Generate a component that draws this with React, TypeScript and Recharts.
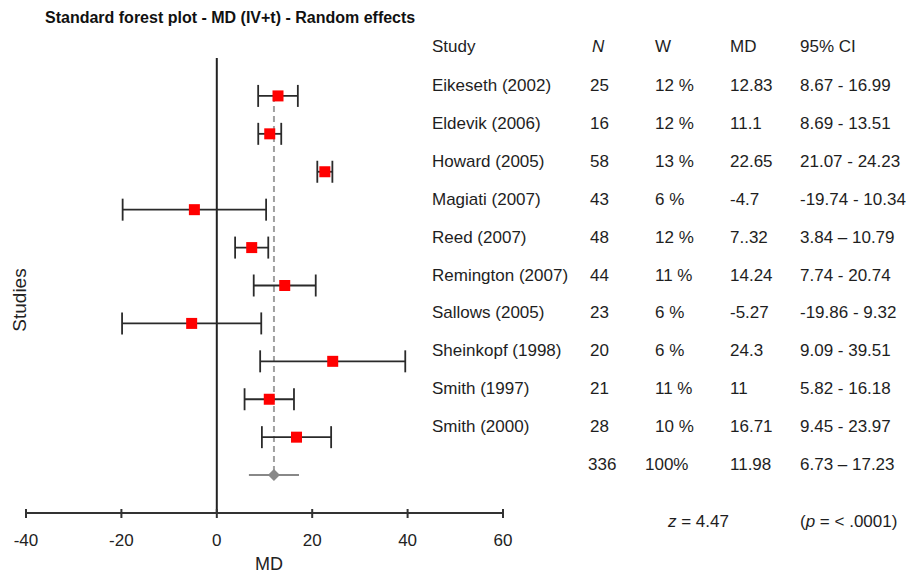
import React from "react";
import { ScatterChart, Scatter, XAxis, YAxis, ErrorBar, ReferenceLine } from "recharts";

const studies = [
  "Eikeseth (2002)",
  "Eldevik (2006)",
  "Howard (2005)",
  "Magiati (2007)",
  "Reed (2007)",
  "Remington (2007)",
  "Sallows (2005)",
  "Sheinkopf (1998)",
  "Smith (1997)",
  "Smith (2000)",
];
const nValues = ["25", "16", "58", "43", "48", "44", "23", "20", "21", "28"];
const weights = ["12 %", "12 %", "13 %", "6 %", "12 %", "11 %", "6 %", "6 %", "11 %", "10 %"];
const mdLabels = ["12.83", "11.1", "22.65", "-4.7", "7..32", "14.24", "-5.27", "24.3", "11", "16.71"];
const ciLabels = [
  "8.67 - 16.99",
  "8.69 - 13.51",
  "21.07 - 24.23",
  "-19.74 - 10.34",
  "3.84 \u2013 10.79",
  "7.74 - 20.74",
  "-19.86 - 9.32",
  "9.09 - 39.51",
  "5.82 - 16.18",
  "9.45 - 23.97",
];
const mdValues = [12.83, 11.1, 22.65, -4.7, 7.32, 14.24, -5.27, 24.3, 11, 16.71];
const ciLow = [8.67, 8.69, 21.07, -19.74, 3.84, 7.74, -19.86, 9.09, 5.82, 9.45];
const ciHigh = [16.99, 13.51, 24.23, 10.34, 10.79, 20.74, 9.32, 39.51, 16.18, 23.97];

const pooledMd = 11.98;
const pooledLow = 6.73;
const pooledHigh = 17.23;
const pooledRow = ["336", "100%", "11.98", "6.73 \u2013 17.23"];
const xTicks = [-40, -20, 0, 20, 40, 60];

const studyData = mdValues.map((md, i) => ({
  row: i + 1,
  md,
  err: [md - ciLow[i], ciHigh[i] - md],
}));
const pooledData = [{ row: 11, md: pooledMd, err: [pooledMd - pooledLow, pooledHigh - pooledMd] }];

const W = 911;
const H = 574;
const PLOT_TOP = 58;
const PLOT_BOTTOM = 513;
const ROW_H = (PLOT_BOTTOM - PLOT_TOP) / 12;
const FONT = "Arial, 'Liberation Sans', sans-serif";

const Square = (props: any) => {
  const { cx, cy } = props;
  return <rect x={cx - 5.5} y={cy - 5.5} width={11} height={11} fill="#ff0000" />;
};

const Diamond = (props: any) => {
  const { cx, cy } = props;
  return <polygon points={`${cx},${cy - 6} ${cx + 6},${cy} ${cx},${cy + 6} ${cx - 6},${cy}`} fill="#888888" />;
};

const AxisTick = (props: any) => {
  const { x, y, payload } = props;
  return (
    <g>
      <line x1={x} x2={x} y1={y - 4} y2={y + 5} stroke="#333" strokeWidth={2} />
      <text x={x} y={y + 33} textAnchor="middle" fontSize={17} fill="#222" fontFamily={FONT}>
        {payload.value}
      </text>
    </g>
  );
};

const cols = [432, 590, 655, 730, 800];

const cell = (left: number, top: number, content: React.ReactNode, extra: React.CSSProperties = {}) => (
  <div
    style={{
      position: "absolute",
      left,
      top: top - 10,
      fontSize: 17,
      lineHeight: "20px",
      color: "#1e1e1e",
      whiteSpace: "nowrap",
      ...extra,
    }}
  >
    {content}
  </div>
);

export default function App() {
  const rowY = (i: number) => PLOT_TOP + (i + 1) * ROW_H - 10;
  return (
    <div style={{ position: "absolute", left: 0, top: 0, width: W, height: H, background: "#fff", fontFamily: FONT, overflow: "hidden" }}>
      <div style={{ position: "absolute", left: 45, top: 9, fontSize: 16, fontWeight: "bold", color: "#111", whiteSpace: "nowrap" }}>
        Standard forest plot - MD (IV+t) - Random effects
      </div>

      <ScatterChart width={W} height={H} margin={{ top: PLOT_TOP, right: W - 503, bottom: H - PLOT_BOTTOM - 45, left: 26 }}>
        <XAxis
          type="number"
          dataKey="md"
          domain={[-40, 60]}
          ticks={xTicks}
          allowDataOverflow
          height={45}
          tickSize={0}
          tickMargin={0}
          tickLine={false}
          axisLine={{ stroke: "#333", strokeWidth: 2 }}
          tick={<AxisTick />}
        />
        <YAxis type="number" dataKey="row" domain={[0, 12]} reversed hide />
        <ReferenceLine x={0} stroke="#222" strokeWidth={2} />
        <ReferenceLine
          segment={[
            { x: pooledMd, y: 1 },
            { x: pooledMd, y: 11 },
          ]}
          stroke="#a0a0a0"
          strokeWidth={2}
          strokeDasharray="6 4"
        />
        <Scatter data={studyData} shape={<Square />} isAnimationActive={false}>
          <ErrorBar dataKey="err" direction="x" width={11} stroke="#2a2a2a" strokeWidth={1.8} />
        </Scatter>
        <Scatter data={pooledData} shape={<Diamond />} isAnimationActive={false}>
          <ErrorBar dataKey="err" direction="x" width={0} stroke="#888" strokeWidth={2} />
        </Scatter>
      </ScatterChart>

      {cell(cols[0], 47, "Study")}
      {cell(cols[1] + 2, 47, "N", { fontStyle: "italic" })}
      {cell(cols[2], 47, "W")}
      {cell(cols[3], 47, "MD")}
      {cell(cols[4], 47, "95% CI")}

      {studies.map((s, i) => (
        <React.Fragment key={s}>
          {cell(cols[0], rowY(i), s)}
          {cell(cols[1], rowY(i), nValues[i])}
          {cell(cols[2], rowY(i), weights[i])}
          {cell(cols[3], rowY(i), mdLabels[i])}
          {cell(cols[4], rowY(i), ciLabels[i])}
        </React.Fragment>
      ))}

      {cell(cols[1] - 2, rowY(10), pooledRow[0])}
      {cell(cols[2] - 10, rowY(10), pooledRow[1])}
      {cell(cols[3], rowY(10), pooledRow[2])}
      {cell(cols[4], rowY(10), pooledRow[3])}

      {cell(668, 522, <><i>z</i> =  4.47</>)}
      {cell(cols[4], 522, <>(<i>p</i> = &lt; .0001)</>)}

      <div
        style={{
          position: "absolute",
          left: 20,
          top: 300,
          transform: "translate(-50%, -50%) rotate(-90deg)",
          fontSize: 19,
          color: "#222",
          whiteSpace: "nowrap",
        }}
      >
        Studies
      </div>
      <div style={{ position: "absolute", left: 269, top: 564, transform: "translate(-50%, -50%)", fontSize: 18, color: "#222" }}>MD</div>
    </div>
  );
}
